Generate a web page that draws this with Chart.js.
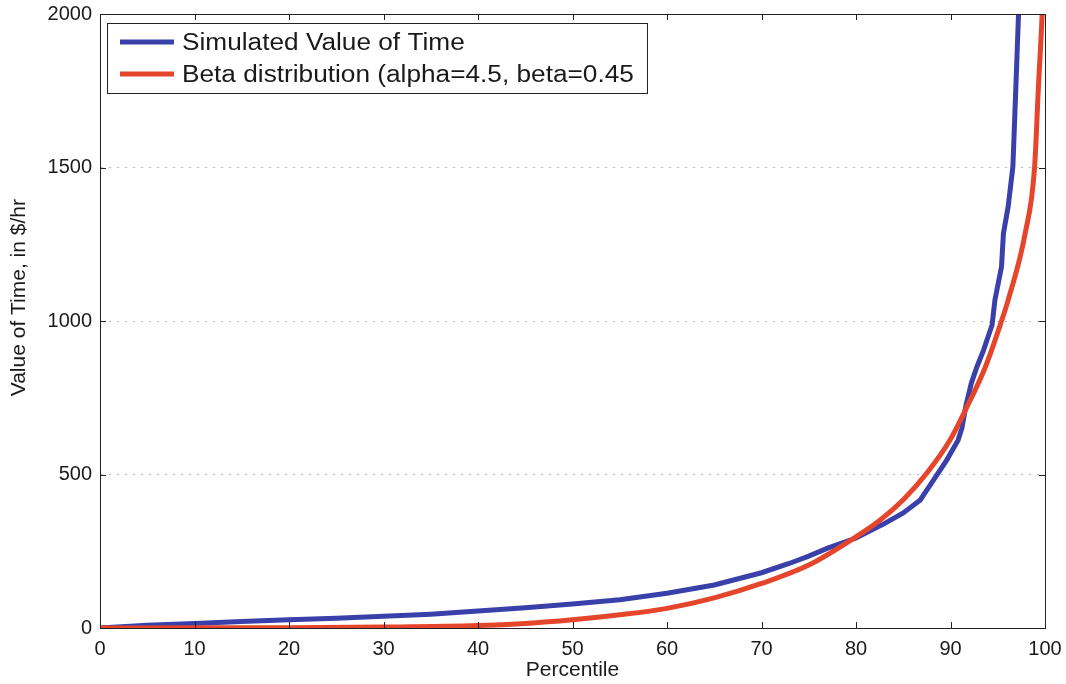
<!DOCTYPE html>
<html>
<head>
<meta charset="utf-8">
<script src="https://cdn.jsdelivr.net/npm/chart.js@4.4.1/dist/chart.umd.min.js"></script>
<style>
  html, body { margin: 0; padding: 0; background: #fff; }
  #wrap { width: 1066px; height: 684px; }
</style>
</head>
<body>
<div id="wrap"><canvas id="vot"></canvas></div>
<script>
// percentiles and values
var simPct = [0, 5, 10, 15, 20, 25, 30, 35, 40, 45, 50, 55, 60, 65, 70, 73, 75, 77, 80, 83, 85, 86.8, 87.3, 88.2, 89.6, 90.8, 91.2, 91.6, 92.2, 92.8, 93.5, 94.1, 94.4, 94.7, 95.4, 95.6, 96.1, 96.6, 96.8, 97.2, 97.4];
var simVal = [0, 9, 15, 21, 27, 32, 38, 45, 55, 66, 78, 92, 113, 140, 180, 211, 234, 260, 293, 340, 375, 417, 440, 482, 547, 612, 650, 720, 797, 851, 905, 960, 987, 1068, 1177, 1285, 1372, 1502, 1665, 2000, 2300];

var betaPct = [0, 10, 20, 30, 40, 45, 50, 55, 60, 65, 70, 75, 80, 82.5, 85, 87.5, 90, 91.5, 93.7, 95.4, 96.1, 97.9, 98.9, 99.3, 99.7, 100];
var betaVal = [0, 0.5, 1, 3, 8, 15, 27, 43, 64, 98, 145, 205, 297, 350, 418, 505, 615, 705, 851, 1000, 1068, 1285, 1502, 1760, 2000, 2250];

var seriesNames = ["Simulated Value of Time", "Beta distribution (alpha=4.5, beta=0.45"];
var seriesColors = ["#3a40aa", "#e5462b"];

var xTicks = [0, 10, 20, 30, 40, 50, 60, 70, 80, 90, 100];
var yTicks = [0, 500, 1000, 1500, 2000];

var FONT = "'Liberation Sans', Arial, Helvetica, sans-serif";

function toPoints(xs, ys) {
  return xs.map(function (x, i) { return { x: x, y: ys[i] }; });
}

// box, inward ticks on all sides, and the boxed legend
var framePlugin = {
  id: "frame",
  afterDraw: function (chart) {
    var ctx = chart.ctx, a = chart.chartArea;
    var xs = chart.scales.x, ys = chart.scales.y;
    ctx.save();
    ctx.strokeStyle = "#222";
    ctx.lineWidth = 1;
    ctx.strokeRect(a.left + 0.5, a.top + 0.5, a.right - a.left, a.bottom - a.top);
    ctx.beginPath();
    xTicks.forEach(function (v) {
      var px = Math.round(xs.getPixelForValue(v)) + 0.5;
      ctx.moveTo(px, a.bottom); ctx.lineTo(px, a.bottom - 6);
      ctx.moveTo(px, a.top); ctx.lineTo(px, a.top + 6);
    });
    yTicks.forEach(function (v) {
      var py = Math.round(ys.getPixelForValue(v)) + 0.5;
      ctx.moveTo(a.left, py); ctx.lineTo(a.left + 6, py);
      ctx.moveTo(a.right, py); ctx.lineTo(a.right - 6, py);
    });
    ctx.stroke();

    // legend box
    var lx = 107, ly = 23, lw = 540, lh = 70;
    ctx.fillStyle = "#fff";
    ctx.fillRect(lx, ly, lw, lh);
    ctx.strokeStyle = "#222";
    ctx.strokeRect(lx + 0.5, ly + 0.5, lw, lh);
    var rows = [42, 74];
    seriesNames.forEach(function (name, i) {
      ctx.strokeStyle = seriesColors[i];
      ctx.lineWidth = 5;
      ctx.beginPath();
      ctx.moveTo(120, rows[i]); ctx.lineTo(174, rows[i]);
      ctx.stroke();
      ctx.save();
      ctx.translate(182, rows[i] + 8);
      ctx.scale(1.14, 1);
      ctx.fillStyle = "#1a1a1a";
      ctx.font = "23px " + FONT;
      ctx.textBaseline = "alphabetic";
      ctx.fillText(name, 0, 0);
      ctx.restore();
    });
    ctx.restore();
  }
};

new Chart(document.getElementById("vot"), {
  type: "line",
  data: {
    datasets: [{
      label: seriesNames[0],
      data: toPoints(simPct, simVal),
      borderColor: seriesColors[0],
      borderWidth: 5,
      pointRadius: 0,
      tension: 0,
      order: 2
    }, {
      label: seriesNames[1],
      data: toPoints(betaPct, betaVal),
      borderColor: seriesColors[1],
      borderWidth: 5,
      pointRadius: 0,
      cubicInterpolationMode: "monotone",
      order: 1
    }]
  },
  options: {
    responsive: true,
    maintainAspectRatio: false,
    animation: false,
    layout: { padding: { top: 14, right: 21, left: 0, bottom: 0 } },
    plugins: {
      legend: { display: false },
      tooltip: { enabled: false }
    },
    scales: {
      x: {
        type: "linear",
        min: 0,
        max: 100,
        afterBuildTicks: function (s) { s.ticks = xTicks.map(function (v) { return { value: v }; }); },
        afterFit: function (s) { s.height = 56; s.paddingLeft = 0; s.paddingRight = 0; },
        ticks: {
          font: { family: FONT, size: 20 }, color: "#1a1a1a", padding: 9, maxRotation: 0,
          callback: function (v) { return String(v); }
        },
        grid: { display: false, drawTicks: false },
        border: { color: "#222" },
        title: {
          display: true,
          text: "Percentile",
          font: { family: FONT, size: 21 },
          color: "#1a1a1a",
          padding: { top: 0, bottom: 1 }
        }
      },
      y: {
        min: 0,
        max: 2000,
        afterBuildTicks: function (s) { s.ticks = yTicks.map(function (v) { return { value: v }; }); },
        afterFit: function (s) { s.width = 100; s.paddingTop = 0; s.paddingBottom = 0; },
        ticks: {
          font: { family: FONT, size: 20 }, color: "#1a1a1a", padding: 8,
          callback: function (v) { return String(v); }
        },
        grid: {
          drawTicks: false,
          color: function (c) {
            return (c.tick && (c.tick.value === 0 || c.tick.value === 2000)) ? "rgba(0,0,0,0)" : "#b8b8b8";
          }
        },
        border: { color: "#222", dash: [2, 6] },
        title: {
          display: true,
          // leading no-break spaces nudge the label above the axis centre, as in the original
          text: "\u00a0\u00a0\u00a0\u00a0\u00a0\u00a0\u00a0\u00a0Value of Time, in $/hr",
          font: { family: FONT, size: 21 },
          color: "#1a1a1a",
          padding: { top: 7, bottom: 0 }
        }
      }
    }
  },
  plugins: [framePlugin]
});
</script>
</body>
</html>
